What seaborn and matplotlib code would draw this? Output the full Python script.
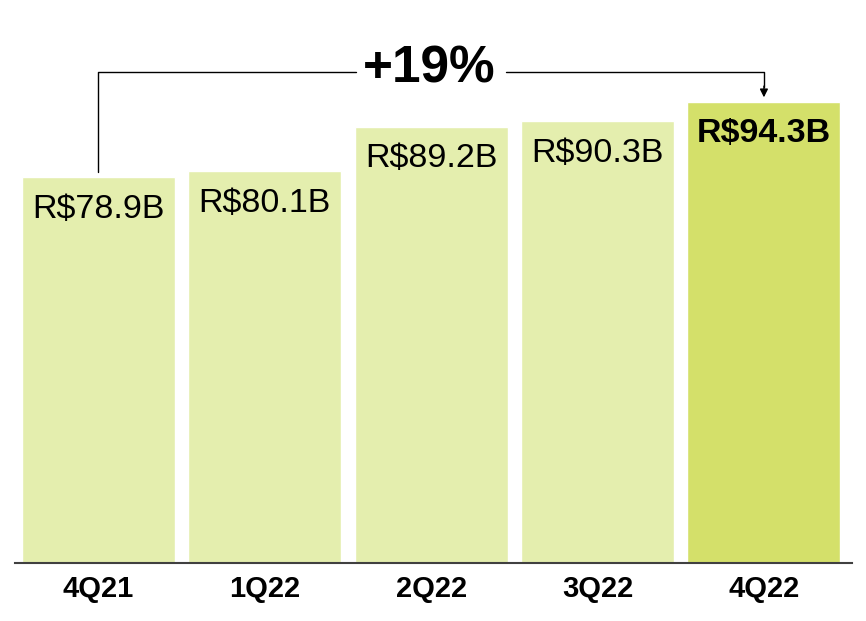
import pandas as pd
import seaborn as sns
from matplotlib import pyplot as plt

quarters = ["4Q21", "1Q22", "2Q22", "3Q22", "4Q22"]
values = [78.9, 80.1, 89.2, 90.3, 94.3]
value_labels = ["R$78.9B", "R$80.1B", "R$89.2B", "R$90.3B", "R$94.3B"]
growth_label = "+19%"

LIGHT = "#e4eeae"
DARK = "#d4e06a"

sns.set_theme(style="white")
plt.rcParams["font.family"] = ["Liberation Sans", "DejaVu Sans"]

df = pd.DataFrame({"quarter": quarters, "value": values})
colors = [LIGHT] * (len(quarters) - 1) + [DARK]

fig = plt.figure(figsize=(8.66, 6.21), dpi=100)
ax = fig.add_axes([0.0173, 0.0934, 0.9667, 0.9066])

sns.barplot(data=df, x="quarter", y="value", hue="quarter", palette=colors,
            width=0.92, saturation=1, legend=False, ax=ax)

ax.set_xlim(-0.5, 4.53)
ax.set_ylim(0, 115.1)

# value labels inside the bars
for i, (v, lab) in enumerate(zip(values, value_labels)):
    last = i == len(values) - 1
    ax.text(i, v - 3.4, lab, ha="center", va="top", fontsize=24.5,
            fontweight="bold" if last else "normal", color="black")

# growth bracket
top_y = 100.4
ax.plot([0, 0, 1.55], [values[0] + 1.0, top_y, top_y], color="black", lw=1)
ax.plot([2.45, 4, 4], [top_y, top_y, values[-1] + 3], color="black", lw=1)
ax.annotate("", xy=(4, values[-1] + 0.9), xytext=(4, values[-1] + 3.2),
            arrowprops=dict(arrowstyle="-|>", color="black", lw=1,
                            mutation_scale=12, shrinkA=0, shrinkB=0))
ax.text(1.99, top_y + 0.6, growth_label, ha="center", va="center", fontsize=37,
        fontweight="bold", color="black")

sns.despine(ax=ax, left=True)
ax.spines["bottom"].set_color("#404040")
ax.spines["bottom"].set_linewidth(1.5)
ax.set_yticks([])
ax.set_xlabel("")
ax.set_ylabel("")
ax.tick_params(axis="x", length=0, pad=9)
for t in ax.get_xticklabels():
    t.set_fontsize(21)
    t.set_fontweight("bold")
    t.set_color("black")

fig.savefig("out.png", dpi=100, facecolor="white")
